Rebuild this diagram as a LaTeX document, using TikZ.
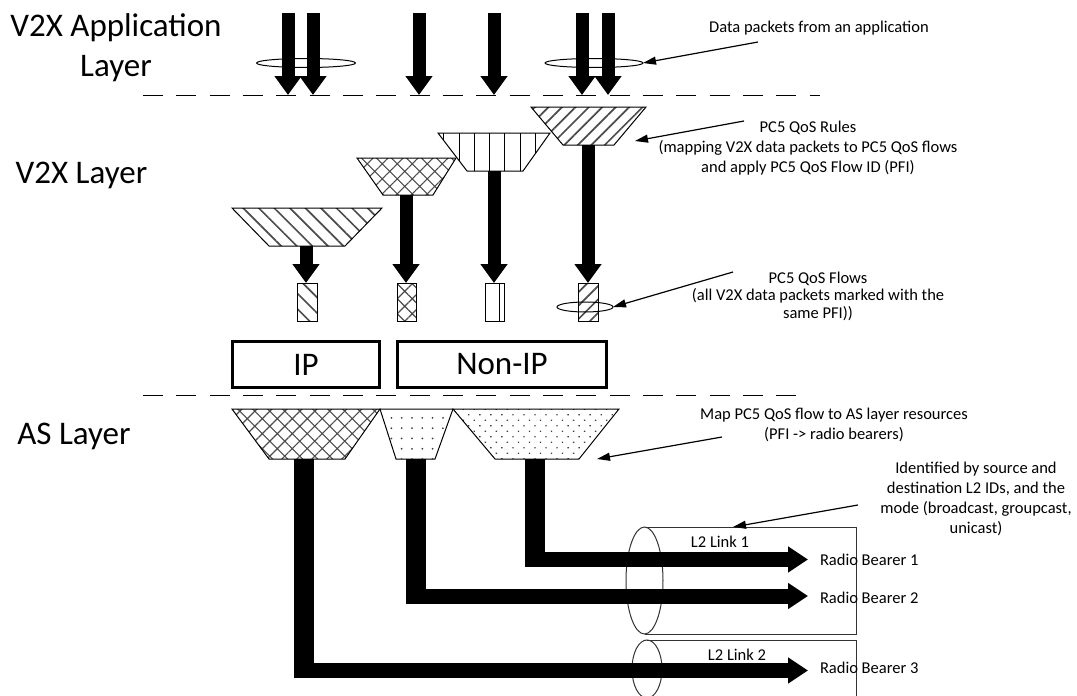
\documentclass[tikz,border=0pt]{standalone}
\usepackage{fontspec}
\setmainfont{Carlito}
\usetikzlibrary{arrows.meta,patterns.meta,shapes.geometric}
\begin{document}
\begin{tikzpicture}[x=1pt,y=-1pt,
  every node/.style={inner sep=0pt,outer sep=0pt},
  bigtxt/.style={font=\fontsize{33}{40}\selectfont,align=center},
  smalltxt/.style={font=\fontsize{16.5}{20}\selectfont,align=center},
  layersep/.style={line width=1pt,dash pattern=on 20pt off 13.33pt},
  thinell/.style={draw,ellipse,line width=1pt},
  funnel/.style={draw,line width=1pt},
  downarr/.style={line width=13pt,-{Triangle[length=19pt,width=26pt]}},
  vstem/.style={line width=20pt},
  rightarr/.style={line width=15pt,-{Triangle[length=20pt,width=25pt]}},
  annot/.style={line width=1.2pt,-{Triangle[length=13pt,width=8pt]}},
  flowbox/.style={draw,line width=1pt,minimum width=19pt,minimum height=38pt},
  layerbox/.style={draw,line width=3pt,minimum height=46pt,font=\fontsize{33}{40}\selectfont},
  cyl/.style={draw=black!80,line width=1pt},
  pNW/.style={pattern={Lines[angle=-45,distance=11pt,line width=1.7pt]},pattern color=black!70},
  pNE/.style={pattern={Lines[angle=45,distance=9.5pt,line width=1.7pt]},pattern color=black!70},
  pV/.style={pattern={Lines[angle=90,distance=15.3pt,line width=0.9pt]},pattern color=black},
  pX/.style={pattern={Hatch[angle=45,distance=10.6pt,line width=1.1pt]},pattern color=black!70},
  pDs/.style={pattern={Dots[distance=10.3pt,radius=1pt]},pattern color=black!75},
  pDd/.style={pattern={Dots[angle=45,distance=7.8pt,radius=0.95pt]},pattern color=black!75},
]
\useasboundingbox (0,0) rectangle (1077,696);

% layer labels
\node[bigtxt] (lblApp) at (116,48) {V2X Application\\Layer};
\node[bigtxt] (lblV2X) at (81.5,175.5) {V2X Layer};
\node[bigtxt] (lblAS) at (74,436) {AS Layer};

% separators
\coordinate (sep1a) at (143,95); \coordinate (sep1b) at (820,95);
\coordinate (sep2a) at (143,395); \coordinate (sep2b) at (796,395);
\draw[layersep] (sep1a) -- (sep1b);
\draw[layersep] (sep2a) -- (sep2b);

% grouping ellipses at the top
\node[thinell,minimum width=99pt,minimum height=9pt] (grpL) at (306,63) {};
\node[thinell,minimum width=98pt,minimum height=9pt] (grpR) at (594,63) {};

% application packets
\foreach \x [count=\i] in {288,313,419,494,582,608} {
  \coordinate (pk\i) at (\x,13);
  \coordinate (pkEnd\i) at (\x,95);
  \draw[downarr] (pk\i) -- (pkEnd\i);
}

% V2X layer funnels (PC5 QoS rules)
\draw[funnel,pNW] (232,208) -- (382,208) -- (345,246) -- (269,246) -- cycle;
\draw[funnel,pX] (357,158) -- (456,158) -- (433,195) -- (383,195) -- cycle;
\draw[funnel,pV] (438,133) -- (550,133) -- (523,171) -- (467,171) -- cycle;
\draw[funnel,pNE] (531,107) -- (646,107) -- (614,145) -- (563,145) -- cycle;
\coordinate (outA) at (306,246);
\coordinate (outB) at (406,195);
\coordinate (outC) at (494,171);
\coordinate (outD) at (588,145);

% PC5 QoS flows
\node[flowbox,pNW,minimum width=20pt] (qA) at (307,302) {};
\node[flowbox,pX] (qB) at (406.5,302) {};
\node[flowbox] (qC) at (494.5,302) {};
\draw[line width=1pt] ([xshift=4.5pt]qC.north) -- ([xshift=4.5pt]qC.south);
\node[flowbox,pNE,minimum width=20pt] (qD) at (588,302) {};
\node[thinell,minimum width=56pt,minimum height=10pt] (grpQ) at (585,307) {};

\draw[downarr] (outA) -- (outA |- qA.north);
\draw[downarr] (outB) -- (outB |- qB.north);
\draw[downarr] (outC) -- (outC |- qC.north);
\draw[downarr] (outD) -- (outD |- qD.north);

% IP / Non-IP
\node[layerbox,minimum width=147pt] (ip) at (306,364.5) {IP};
\node[layerbox,minimum width=209pt] (nonip) at (502,364.5) {Non-IP};

% AS layer funnels
\draw[funnel,pX] (232,409) -- (380,409) -- (345,459) -- (269,459) -- cycle;
\draw[funnel,pDs] (380,409) -- (453,409) -- (435,459) -- (396,459) -- cycle;
\draw[funnel,pDd] (453,409) -- (619,409) -- (579,459) -- (495,459) -- cycle;

% L2 links (cylinders)
\node[thinell,draw=black!80,minimum width=37pt,minimum height=107pt] (link1) at (644.5,580.5) {};
\coordinate (l1ne) at (856,527); \coordinate (l1se) at (856,634);
\draw[cyl] (link1.north) -- (l1ne) -- (l1se) -- (link1.south);
\node[thinell,draw=black!80,minimum width=30pt,minimum height=58pt] (link2) at (647,669) {};
\coordinate (l2ne) at (856,640); \coordinate (l2se) at (856,700);
\draw[cyl] (link2.north) -- (l2ne) -- (l2se);

% radio bearer arrows
\coordinate (asG) at (535,459); \coordinate (asGb) at (535,567);
\coordinate (asF) at (416,459); \coordinate (asFb) at (416,603.5);
\coordinate (asE) at (304,459); \coordinate (asEb) at (304,678);
\draw[vstem] (asG) -- (asGb);
\draw[vstem] (asF) -- (asFb);
\draw[vstem] (asE) -- (asEb);
\coordinate (hG) at (525,559.5); \coordinate (tG) at (808,559.5);
\coordinate (hF) at (406,596);   \coordinate (tF) at (808,596);
\coordinate (hE) at (294,670.5); \coordinate (tE) at (808,670.5);
\draw[rightarr] (hG) -- (tG);
\draw[rightarr] (hF) -- (tF);
\draw[rightarr] (hE) -- (tE);

\node[smalltxt,anchor=west] (rb1) at (820,559.5) {Radio Bearer 1};
\node[smalltxt,anchor=west] (rb2) at (820,597.5) {Radio Bearer 2};
\node[smalltxt,anchor=west] (rb3) at (820,667.5) {Radio Bearer 3};
\node[smalltxt] (l2a) at (720,541.5) {L2 Link 1};
\node[smalltxt] (l2b) at (737,654.5) {L2 Link 2};

% annotations
\node[smalltxt] (tData) at (819,27.8) {Data packets from an application};
\coordinate (aData) at (758,42);
\draw[annot] (aData) -- (grpR.east);

\node[smalltxt] (tRules) at (808,148) {PC5 QoS Rules\\(mapping V2X data packets to PC5 QoS flows\\and apply PC5 QoS Flow ID (PFI)};
\coordinate (aRules) at (744,121); \coordinate (aRulesTip) at (635,141);
\draw[annot] (aRules) -- (aRulesTip);

\node[smalltxt,font=\fontsize{16.5}{17.5}\selectfont] (tFlows) at (818,296) {PC5 QoS Flows\\(all V2X data packets marked with the\\same PFI))};
\coordinate (aFlows) at (733,272);
\draw[annot] (aFlows) -- (grpQ.east);

\node[smalltxt] (tMap) at (834,424.5) {Map PC5 QoS flow to AS layer resources\\(PFI -> radio bearers)};
\coordinate (aMap) at (722,437); \coordinate (aMapTip) at (597,459);
\draw[annot] (aMap) -- (aMapTip);

\node[smalltxt] (tId) at (976,499) {Identified by source and\\destination L2 IDs, and the\\mode (broadcast, groupcast,\\unicast)};
\coordinate (aId) at (858,505); \coordinate (aIdTip) at (733,527);
\draw[annot] (aId) -- (aIdTip);
\end{tikzpicture}
\end{document}
